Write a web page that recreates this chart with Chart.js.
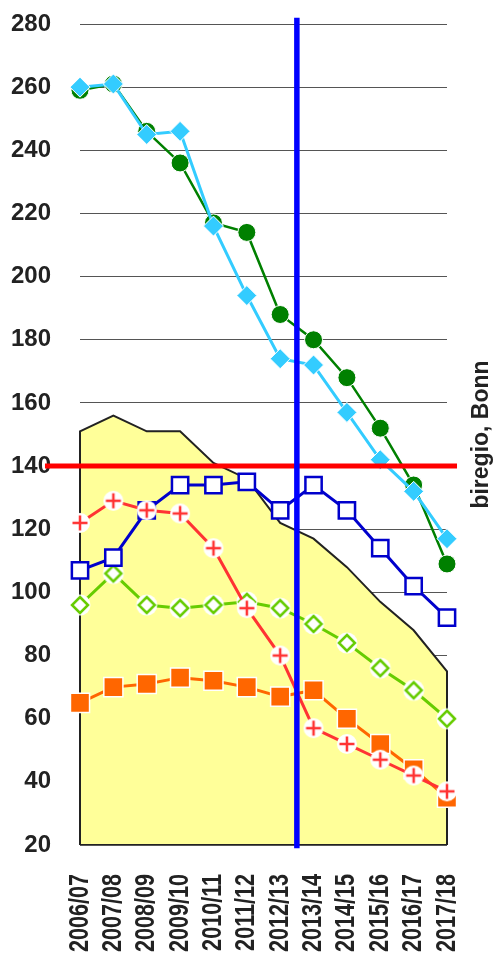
<!DOCTYPE html>
<html>
<head>
<meta charset="utf-8">
<script src="https://cdn.jsdelivr.net/npm/chart.js@4/dist/chart.umd.min.js"></script>
<style>
  html, body { margin: 0; padding: 0; background: #ffffff; }
  #wrap { position: relative; width: 495px; height: 953px; }
</style>
</head>
<body>
<div id="wrap"><canvas id="c"></canvas></div>
<script>
// ---- data ----
const categories = ['2006/07','2007/08','2008/09','2009/10','2010/11','2011/12','2012/13','2013/14','2014/15','2015/16','2016/17','2017/18'];
const greenCircles = [259, 261, 246, 236, 217, 214, 188, 180, 168, 152, 134, 109];
const cyanDiamonds = [260, 261, 245, 246, 216, 194, 174, 172, 157, 142, 132, 117];
const blueSquares  = [107, 111, 126, 134, 134, 135, 126, 134, 126, 114, 102, 92];
const redCrosses   = [122, 129, 126, 125, 114, 95, 80, 57, 52, 47, 42, 37];
const limeDiamonds = [96, 106, 96, 95, 96, 97, 95, 90, 84, 76, 69, 60];
const orangeSquares= [65, 70, 71, 73, 72, 70, 67, 69, 60, 52, 44, 35];
const yellowArea   = [151, 156, 151, 151, 141, 136, 122, 117, 108, 97, 88, 75];
const yMin = 20, yMax = 280, yStep = 20;
const refLineValue = 140;        // red horizontal line
const refLineIndex = 6.5;        // blue vertical line (between 2012/13 and 2013/14)
const sideNote = 'biregio, Bonn';

// ---- marker images ----
function makeMarker(size, draw) {
  const c = document.createElement('canvas');
  c.width = size; c.height = size;
  const g = c.getContext('2d');
  draw(g, size / 2);
  return c;
}
const plusMarker = makeMarker(24, (g, m) => {
  g.fillStyle = '#ffffff';
  g.beginPath(); g.arc(m, m, 10, 0, Math.PI * 2); g.fill();
  g.strokeStyle = '#FF3333'; g.lineWidth = 2.5;
  g.beginPath();
  g.moveTo(m - 7.5, m); g.lineTo(m + 7.5, m);
  g.moveTo(m, m - 7.5); g.lineTo(m, m + 7.5);
  g.stroke();
});
const limeMarker = makeMarker(24, (g, m) => {
  g.fillStyle = '#ffffff';
  g.beginPath(); g.arc(m, m, 10.5, 0, Math.PI * 2); g.fill();
  g.strokeStyle = '#66CC00'; g.lineWidth = 2.5;
  g.beginPath();
  g.moveTo(m, m - 8); g.lineTo(m + 8, m); g.lineTo(m, m + 8); g.lineTo(m - 8, m); g.closePath();
  g.stroke();
});

// outline polygon for the yellow area, built from the area array
const areaOutline = [{x: categories[0], y: yMin}]
  .concat(yellowArea.map((v, i) => ({x: categories[i], y: v})))
  .concat([{x: categories[categories.length - 1], y: yMin}, {x: categories[0], y: yMin}]);

const refPlugin = {
  id: 'refLines',
  afterDatasetsDraw(chart) {
    const {ctx, scales: {x, y}, chartArea} = chart;
    ctx.save();
    // red horizontal line
    const yr = y.getPixelForValue(refLineValue);
    ctx.strokeStyle = '#FF0000';
    ctx.lineWidth = 5;
    ctx.beginPath();
    ctx.moveTo(x.getPixelForValue(-1.05), yr);
    ctx.lineTo(x.getPixelForValue(11.3), yr);
    ctx.stroke();
    // blue vertical line
    const xb = x.getPixelForValue(refLineIndex);
    ctx.strokeStyle = '#0000FF';
    ctx.lineWidth = 5.5;
    ctx.beginPath();
    ctx.moveTo(xb, y.getPixelForValue(282));
    ctx.lineTo(xb, y.getPixelForValue(19));
    ctx.stroke();
    ctx.restore();

    // side note
    ctx.save();
    ctx.translate(chartArea.right + 41, (chartArea.top + chartArea.bottom) / 2);
    ctx.rotate(-Math.PI / 2);
    ctx.fillStyle = '#222222';
    ctx.font = 'bold 23px "Liberation Sans", Arial, sans-serif';
    ctx.textAlign = 'center';
    ctx.textBaseline = 'alphabetic';
    ctx.fillText(sideNote, 0, 0);
    ctx.restore();

    // condensed, rotated category labels
    ctx.save();
    ctx.fillStyle = '#222222';
    ctx.font = 'bold 27px "Liberation Sans", Arial, sans-serif';
    ctx.textAlign = 'right';
    ctx.textBaseline = 'alphabetic';
    categories.forEach((lab, i) => {
      ctx.save();
      ctx.translate(x.getPixelForValue(i) + 7.5, chartArea.bottom + 29);
      ctx.rotate(-Math.PI / 2);
      ctx.scale(0.8, 1);
      ctx.fillText(lab, 0, 0);
      ctx.restore();
    });
    ctx.restore();
  }
};

new Chart(document.getElementById('c'), {
  type: 'line',
  data: {
    labels: categories,
    datasets: [
      {label: 'red', data: redCrosses, borderColor: '#FF3333', borderWidth: 3,
       pointStyle: plusMarker, pointRadius: 10, tension: 0, fill: false},
      {label: 'cyan', data: cyanDiamonds, borderColor: '#33CCFF', borderWidth: 3,
       backgroundColor: '#33CCFF', pointStyle: 'rectRot', pointRadius: 10,
       pointBorderColor: '#ffffff', pointBorderWidth: 1, tension: 0, fill: false},
      {label: 'green', data: greenCircles, borderColor: '#008000', borderWidth: 2.5,
       backgroundColor: '#008000', pointStyle: 'circle', pointRadius: 9,
       pointBorderColor: '#ffffff', pointBorderWidth: 1, tension: 0, fill: false},
      {label: 'blue', data: blueSquares, borderColor: '#0000CC', borderWidth: 3,
       backgroundColor: '#ffffff', pointStyle: 'rect', pointRadius: 11.5,
       pointBorderColor: '#0000CC', pointBorderWidth: 2.5, tension: 0, fill: false},
      {label: 'lime', data: limeDiamonds, borderColor: '#66CC00', borderWidth: 3,
       pointStyle: limeMarker, pointRadius: 10, tension: 0, fill: false},
      {label: 'orange', data: orangeSquares, borderColor: '#FF6600', borderWidth: 3,
       backgroundColor: '#FF6600', pointStyle: 'rect', pointRadius: 13.5,
       pointBorderColor: '#ffffff', pointBorderWidth: 1.5, tension: 0, fill: false},
      {label: 'outline', data: areaOutline, borderColor: '#222222', borderWidth: 2,
       pointRadius: 0, tension: 0, fill: false},
      {label: 'area', data: yellowArea, borderWidth: 0, borderColor: 'rgba(0,0,0,0)',
       backgroundColor: '#FFFF99', pointRadius: 0, tension: 0, fill: 'start'}
    ]
  },
  options: {
    responsive: true,
    maintainAspectRatio: false,
    animation: false,
    events: [],
    layout: {padding: {top: 24, right: 48, left: 0, bottom: 0}},
    plugins: {legend: {display: false}, tooltip: {enabled: false}, title: {display: false}},
    scales: {
      x: {
        type: 'category',
        offset: false,
        grid: {display: false, drawTicks: false},
        border: {display: false},
        ticks: {display: false},
        afterFit(scale) { scale.height = 108; scale.paddingLeft = 0; scale.paddingRight = 0; }
      },
      y: {
        min: yMin, max: yMax,
        grid: {color: '#555555', lineWidth: 1, drawTicks: false},
        border: {display: false},
        ticks: {
          stepSize: yStep, padding: 29, color: '#222222',
          font: {family: '"Liberation Sans", Arial, sans-serif', weight: 'bold', size: 24}
        },
        afterFit(scale) { scale.width = 80; scale.paddingTop = 0; scale.paddingBottom = 0; }
      }
    }
  },
  plugins: [refPlugin]
});
</script>
</body>
</html>
